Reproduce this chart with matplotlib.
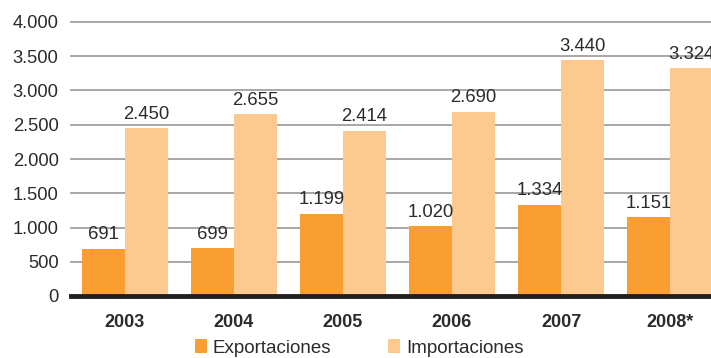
import matplotlib.pyplot as plt
import numpy as np

plt.rcParams['font.family'] = ['Liberation Sans', 'DejaVu Sans']

# values in millions
years = ['2003', '2004', '2005', '2006', '2007', '2008*']
exportaciones = [691, 699, 1199, 1020, 1334, 1151]
importaciones = [2450, 2655, 2414, 2690, 3440, 3324]
yticks = [0, 500, 1000, 1500, 2000, 2500, 3000, 3500, 4000]

c_exp = '#F89E33'
c_imp = '#FCC98F'
txt = '#2b2b2b'


def fmt(v):
    return f"{v:,}".replace(',', '.')


fig = plt.figure(figsize=(7.11, 3.58), dpi=100)
ax = fig.add_axes([71 / 711, 62 / 358, 1 - 71 / 711, 274 / 358])

x = np.arange(len(years))
w = 43 / 109
b1 = ax.bar(x - w / 2, exportaciones, w, color=c_exp, label='Exportaciones', zorder=3)
b2 = ax.bar(x + w / 2, importaciones, w, color=c_imp, label='Importaciones', zorder=3)

for bars, vals in ((b1, exportaciones), (b2, importaciones)):
    for r, v in zip(bars, vals):
        ax.annotate(fmt(v), (r.get_x() + r.get_width() / 2, v), xytext=(0, 4),
                    textcoords='offset points', ha='center', va='bottom',
                    fontsize=13.3, color=txt, annotation_clip=False)

ax.set_xlim(-0.495, 5.376)
ax.set_ylim(0, 4000)
ax.set_yticks(yticks)
ax.set_yticklabels([fmt(v) for v in yticks], fontsize=13.2, color=txt)
ax.set_xticks(x)
ax.set_xticklabels(years, fontsize=13, fontweight='bold', color=txt)
ax.tick_params(axis='y', length=0, pad=9)
ax.tick_params(axis='x', length=0, pad=13)

for v in yticks[1:]:
    ax.axhline(v, color='#a0a0a0', lw=1.3, zorder=1, clip_on=False)
ax.axhline(0, color='#231f20', lw=3.5, zorder=4, clip_on=False)

for s in ax.spines.values():
    s.set_visible(False)

fig.legend(handles=[b1, b2], loc='center left', bbox_to_anchor=(195 / 711, 10 / 358),
           ncol=2, frameon=False, fontsize=13.5, handlelength=0.64, handleheight=0.75,
           handletextpad=0.32, columnspacing=3.0, borderaxespad=0, borderpad=0,
           labelcolor=txt)

fig.savefig('out.png', dpi=100)
